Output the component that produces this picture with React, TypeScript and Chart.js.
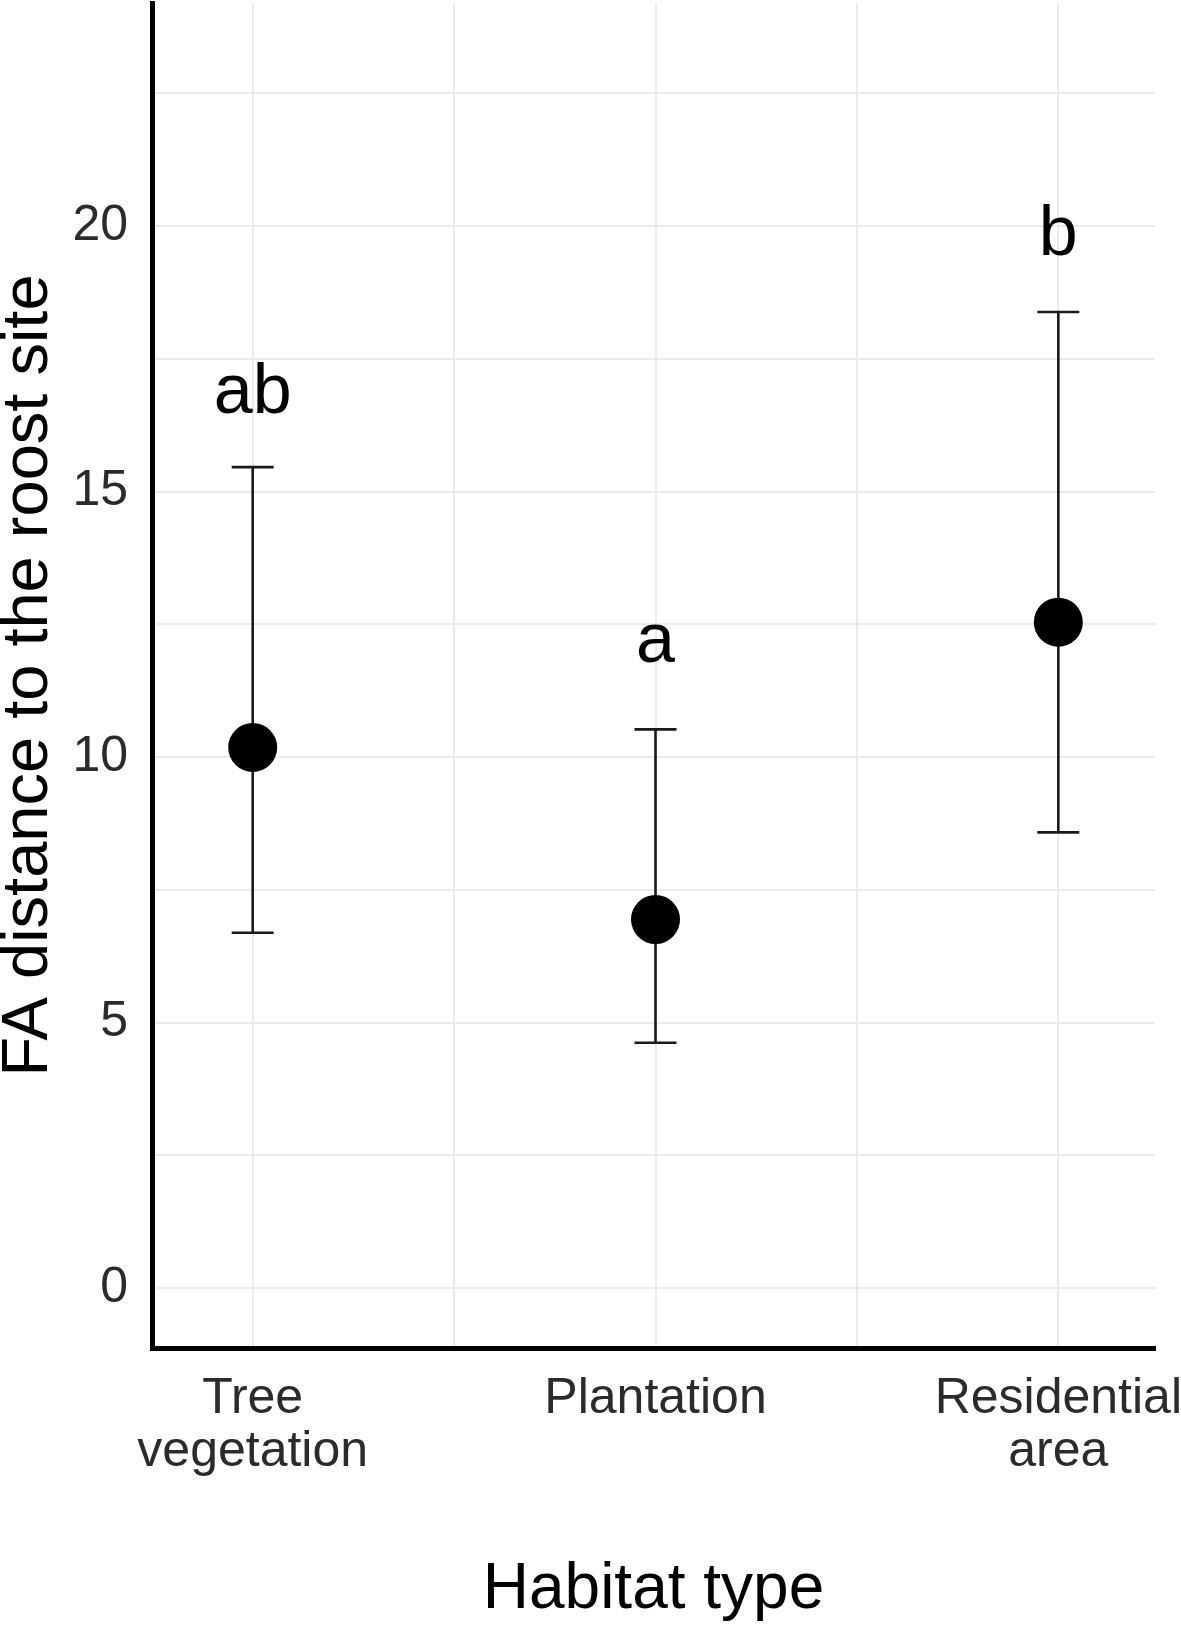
import React, { useEffect, useRef } from "react";
import { Chart, registerables } from "chart.js";

Chart.register(...registerables);

// ---- data ----
const categories: string[][] = [["Tree", "vegetation"], ["Plantation"], ["Residential", "area"]];
const means: number[] = [10.18, 6.94, 12.54];
const lowerCI: number[] = [6.69, 4.62, 8.58];
const upperCI: number[] = [15.46, 10.52, 18.38];
const letters: string[] = ["ab", "a", "b"];
const letterY: number[] = [16.47, 11.78, 19.45];
const yTickLabels: number[] = [0, 5, 10, 15, 20];

const FONT = '"Liberation Sans", Arial, Helvetica, sans-serif';

const errorBarPlugin = {
  id: "errorBars",
  beforeDatasetsDraw(chart: any) {
    const { ctx, scales } = chart;
    const xs = scales.x;
    const ys = scales.y;
    ctx.save();
    ctx.strokeStyle = "#1a1a1a";
    ctx.lineWidth = 2.6;
    ctx.lineCap = "butt";
    for (let i = 0; i < means.length; i++) {
      const x = xs.getPixelForValue(i + 1);
      const yLo = ys.getPixelForValue(lowerCI[i]);
      const yHi = ys.getPixelForValue(upperCI[i]);
      const half = 21;
      ctx.beginPath();
      ctx.moveTo(x, yLo);
      ctx.lineTo(x, yHi);
      ctx.moveTo(x - half, yLo);
      ctx.lineTo(x + half, yLo);
      ctx.moveTo(x - half, yHi);
      ctx.lineTo(x + half, yHi);
      ctx.stroke();
    }
    ctx.restore();
  },
};

const letterPlugin = {
  id: "letters",
  afterDatasetsDraw(chart: any) {
    const { ctx, scales } = chart;
    ctx.save();
    ctx.fillStyle = "#000000";
    ctx.font = `70px ${FONT}`;
    ctx.textAlign = "center";
    ctx.textBaseline = "alphabetic";
    for (let i = 0; i < letters.length; i++) {
      const x = scales.x.getPixelForValue(i + 1);
      const y = scales.y.getPixelForValue(letterY[i]);
      ctx.fillText(letters[i], x, y);
    }
    ctx.restore();
  },
};

export default function App() {
  const ref = useRef<HTMLCanvasElement | null>(null);

  useEffect(() => {
    if (!ref.current) return;
    const chart = new Chart(ref.current, {
      type: "scatter",
      data: {
        datasets: [
          {
            data: means.map((m, i) => ({ x: i + 1, y: m })),
            backgroundColor: "#000000",
            borderWidth: 0,
            pointRadius: 24.5,
            pointHoverRadius: 24.5,
            clip: false,
          },
        ],
      },
      options: {
        animation: false,
        responsive: false,
        devicePixelRatio: 1,
        layout: { autoPadding: false, padding: { top: 3, right: 26, left: 0, bottom: 0 } },
        plugins: {
          legend: { display: false },
          tooltip: { enabled: false },
        },
        scales: {
          x: {
            type: "linear",
            min: 0.75,
            max: 3.24,
            afterFit(scale: any) {
              scale.height = 281;
              scale.paddingLeft = 0;
              scale.paddingRight = 0;
            },
            ticks: {
              stepSize: 0.5,
              includeBounds: false,
              autoSkip: false,
              maxRotation: 0,
              minRotation: 0,
              padding: 25,
              color: "#2b2b2b",
              font: { family: FONT, size: 50, lineHeight: 1.06 },
              callback: (value: any) => {
                const v = Number(value);
                return Number.isInteger(v) && categories[v - 1] ? categories[v - 1] : "";
              },
            },
            grid: { color: "#ebebeb", lineWidth: 2, drawTicks: false },
            border: { display: true, color: "#000000", width: 5 },
            title: {
              display: true,
              text: "Habitat type",
              color: "#000000",
              font: { family: FONT, size: 64, lineHeight: 1 },
              padding: { top: 0, bottom: 7 },
            },
          },
          y: {
            type: "linear",
            min: -1.13,
            max: 24.2,
            afterFit(scale: any) {
              scale.width = 152;
              scale.paddingTop = 0;
              scale.paddingBottom = 0;
            },
            ticks: {
              stepSize: 2.5,
              includeBounds: false,
              autoSkip: false,
              padding: 24,
              color: "#2b2b2b",
              font: { family: FONT, size: 50 },
              callback: (value: any) => {
                const v = Number(value);
                return yTickLabels.includes(v) ? String(v) : "";
              },
            },
            grid: { color: "#ebebeb", lineWidth: 2, drawTicks: false },
            border: { display: true, color: "#000000", width: 5 },
            title: {
              display: true,
              text: "FA distance to the roost site",
              color: "#000000",
              font: { family: FONT, size: 65, lineHeight: 0.9 },
              padding: { top: 0, bottom: 0 },
            },
          },
        },
      },
      plugins: [errorBarPlugin, letterPlugin],
    } as any);
    return () => chart.destroy();
  }, []);

  return (
    <div style={{ position: "absolute", left: 0, top: 0, width: 1181, height: 1629, background: "#ffffff" }}>
      <canvas ref={ref} width={1181} height={1629} style={{ display: "block", width: 1181, height: 1629 }} />
    </div>
  );
}
